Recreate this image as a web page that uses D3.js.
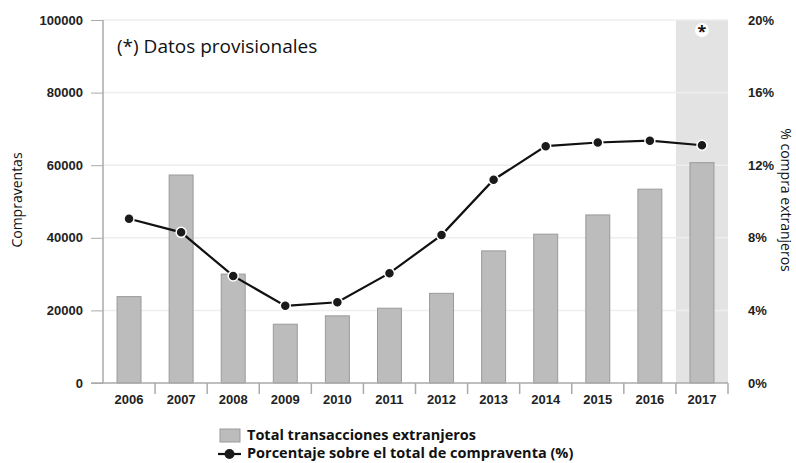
<!DOCTYPE html>
<html>
<head>
<meta charset="utf-8">
<script src="https://cdn.jsdelivr.net/npm/d3@7"></script>
<style>
  html, body { margin: 0; padding: 0; background: #fff; }
  svg { display: block; font-family: "Open Sans", "DejaVu Sans", sans-serif; }
</style>
</head>
<body>
<svg id="chart" width="796" height="463"></svg>
<script>
// Compraventas de vivienda por extranjeros
const years = ["2006","2007","2008","2009","2010","2011","2012","2013","2014","2015","2016","2017"];
const totalTransacciones = [23800, 57300, 30000, 16200, 18500, 20600, 24700, 36400, 41000, 46300, 53400, 60700];
const porcentajeCompraventa = [9.05, 8.3, 5.9, 4.25, 4.45, 6.05, 8.15, 11.2, 13.05, 13.25, 13.35, 13.1];
const leftTicks = [0, 20000, 40000, 60000, 80000, 100000];
const rightTicks = [0, 4, 8, 12, 16, 20];
const provisionalYear = "2017";

const svg = d3.select("#chart");
const m = { left: 103, right: 728, top: 20, bottom: 383 };

const x = d3.scaleBand().domain(years).range([m.left, m.right]).paddingInner(0).paddingOuter(0);
const yL = d3.scaleLinear().domain([0, 100000]).range([m.bottom, m.top]);
const yR = d3.scaleLinear().domain([0, 20]).range([m.bottom, m.top]);

// shaded band for provisional year
svg.append("rect")
  .attr("x", x(provisionalYear)).attr("y", m.top)
  .attr("width", x.bandwidth()).attr("height", m.bottom - m.top)
  .attr("fill", "#e3e3e3");

// horizontal grid
svg.append("g").selectAll("line").data(leftTicks.slice(1)).join("line")
  .attr("x1", m.left).attr("x2", m.right)
  .attr("y1", d => yL(d)).attr("y2", d => yL(d))
  .attr("stroke", "#eeeeee").attr("stroke-width", 1.5);

// bars
const barW = x.bandwidth() * 0.46;
svg.append("g").selectAll("rect").data(years).join("rect")
  .attr("x", d => x(d) + (x.bandwidth() - barW) / 2)
  .attr("y", (d, i) => yL(totalTransacciones[i]))
  .attr("width", barW)
  .attr("height", (d, i) => m.bottom - yL(totalTransacciones[i]))
  .attr("fill", "#bcbcbc").attr("stroke", "#9a9a9a").attr("stroke-width", 1);

// left axis
const axL = svg.append("g").attr("transform", `translate(${m.left},0)`)
  .call(d3.axisLeft(yL).tickValues(leftTicks).tickSize(12).tickPadding(8).tickFormat(d3.format("d")));
axL.select(".domain").remove();
axL.selectAll(".tick line").attr("stroke", "#aaa");
axL.selectAll("text").attr("font-size", 13).attr("fill", "#222").attr("font-weight", 600);
svg.append("line").attr("x1", m.left).attr("x2", m.left).attr("y1", m.top).attr("y2", m.bottom)
  .attr("stroke", "#aaa").attr("stroke-width", 1.5);

// right axis labels
const axR = svg.append("g").attr("transform", `translate(${m.right},0)`)
  .call(d3.axisRight(yR).tickValues(rightTicks).tickSize(0).tickPadding(20).tickFormat(d => d + "%"));
axR.select(".domain").remove();
axR.selectAll("text").attr("font-size", 13).attr("fill", "#222").attr("font-weight", 600);

// bottom axis
const axB = svg.append("g").attr("transform", `translate(0,${m.bottom})`)
  .call(d3.axisBottom(x).tickSize(0).tickPadding(12));
axB.select(".domain").remove();
axB.selectAll("text").attr("font-size", 13).attr("fill", "#222").attr("font-weight", 600);
svg.append("line").attr("x1", m.left - 12).attr("x2", m.right).attr("y1", m.bottom).attr("y2", m.bottom)
  .attr("stroke", "#aaa").attr("stroke-width", 1.5);
const boundaries = years.map(d => x(d) + x.bandwidth());
svg.append("g").selectAll("line").data(boundaries).join("line")
  .attr("x1", d => d).attr("x2", d => d).attr("y1", m.bottom).attr("y2", m.bottom + 11)
  .attr("stroke", "#aaa").attr("stroke-width", 1.5);

// line series
const line = d3.line().x((d, i) => x(years[i]) + x.bandwidth() / 2).y(d => yR(d));
svg.append("path").datum(porcentajeCompraventa)
  .attr("d", line).attr("fill", "none").attr("stroke", "#111").attr("stroke-width", 2.2);
svg.append("g").selectAll("circle").data(porcentajeCompraventa).join("circle")
  .attr("cx", (d, i) => x(years[i]) + x.bandwidth() / 2).attr("cy", d => yR(d))
  .attr("r", 5).attr("fill", "#1a1a1a").attr("stroke", "#fff").attr("stroke-width", 1.5);

// axis titles
svg.append("text").attr("transform", "translate(22,200) rotate(-90)")
  .attr("text-anchor", "middle").attr("font-size", 14).attr("fill", "#111").text("Compraventas");
svg.append("text").attr("transform", "translate(781,200) rotate(90)")
  .attr("text-anchor", "middle").attr("font-size", 14).attr("fill", "#111").text("% compra extranjeros");

// provisional note
svg.append("text").attr("x", 117).attr("y", 53).attr("font-size", 19).attr("fill", "#111")
  .text("(*) Datos provisionales");
const starX = x(provisionalYear) + x.bandwidth() / 2;
svg.append("circle").attr("cx", starX).attr("cy", 30).attr("r", 7).attr("fill", "#fff");
svg.append("text").attr("x", starX).attr("y", 37).attr("text-anchor", "middle")
  .attr("font-size", 16).attr("font-weight", 700).attr("fill", "#111").text("*");

// legend
const lg = svg.append("g");
lg.append("rect").attr("x", 220).attr("y", 429).attr("width", 20).attr("height", 13)
  .attr("fill", "#bcbcbc").attr("stroke", "#9a9a9a");
lg.append("text").attr("x", 247).attr("y", 440).attr("font-size", 14.5).attr("font-weight", 700)
  .attr("fill", "#111").text("Total transacciones extranjeros");
lg.append("line").attr("x1", 218).attr("x2", 241).attr("y1", 454).attr("y2", 454)
  .attr("stroke", "#111").attr("stroke-width", 2.2);
lg.append("circle").attr("cx", 229.5).attr("cy", 454).attr("r", 5).attr("fill", "#1a1a1a");
lg.append("text").attr("x", 247).attr("y", 458).attr("font-size", 14.5).attr("font-weight", 700)
  .attr("fill", "#111").text("Porcentaje sobre el total de compraventa (%)");
</script>
</body>
</html>
